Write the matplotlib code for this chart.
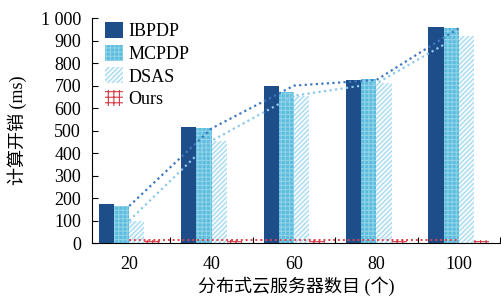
import matplotlib

matplotlib.use("Agg")

import matplotlib.pyplot as plt
import numpy as np

plt.rcParams["font.family"] = ["Liberation Serif", "Noto Sans CJK SC"]
plt.rcParams["hatch.linewidth"] = 0.8

servers = ["20", "40", "60", "80", "100"]
ibpdp = [175, 515, 700, 725, 960]
mcpdp = [165, 510, 670, 730, 955]
dsas = [100, 455, 655, 710, 920]
ours = [16, 16, 16, 16, 16]
trend_dark = [165, 510, 700, 725, 955]
trend_light = [100, 455, 655, 710, 920]
trend_ours = [12, 12, 12, 12, 12]

fig = plt.figure(figsize=(5.01, 3.02), dpi=100)
ax = fig.add_axes([0.184, 0.195, 0.814, 0.745])

x = np.arange(len(servers))
w = 0.185
ax.bar(x - 1.5 * w, ibpdp, w, color="#1d4e8a", label="IBPDP")
ax.bar(x - 0.5 * w, mcpdp, w, color="#5cbcdc", edgecolor="#8fd3ea", hatch="++++", linewidth=0, label="MCPDP")
ax.bar(x + 0.5 * w, dsas, w, color="#f2fafd", edgecolor="#9fd6ee", hatch="///////", linewidth=0, label="DSAS")
ax.bar(x + 1.5 * w, ours, w, color="white", edgecolor="#d23c46", hatch="+++", linewidth=0, label="Ours")

ax.plot(x, trend_dark, ls=(0, (1, 1.5)), color="#3f78c0", lw=1.6)
ax.plot(x, trend_light, ls=(0, (1, 1.5)), color="#8cc8ec", lw=1.6)
ax.plot(x, trend_ours, ls=(0, (1, 1.5)), color="#e0404a", lw=1.4)

ax.set_xlim(-0.45, 4.4)
ax.set_ylim(0, 1000)
yt = np.arange(0, 1001, 100)
ax.set_yticks(yt)
ax.set_yticklabels(["1 000" if v == 1000 else str(v) for v in yt], fontsize=13)
ax.set_xticks(x + 0.5, minor=False)
ax.set_xticklabels([])
ax.set_xticks(x, minor=True)
ax.set_xticklabels(servers, minor=True, fontsize=13)
ax.tick_params(axis="x", which="minor", length=0, pad=9)
ax.tick_params(axis="x", which="major", direction="in", length=4)
ax.tick_params(axis="y", direction="in", length=4, pad=8)
ax.spines["top"].set_visible(False)
ax.spines["right"].set_visible(False)

ax.set_xlabel("分布式云服务器数目 (个)", fontsize=13, labelpad=3)
ax.set_ylabel("计算开销 (ms)", fontsize=13, labelpad=10)

ax.legend(loc="upper left", bbox_to_anchor=(0.0, 1.04), frameon=False, fontsize=13,
          handlelength=1.0, handleheight=1.0, handletextpad=0.3, labelspacing=0.25, borderaxespad=0.3)

fig.savefig("out.png", dpi=100)
